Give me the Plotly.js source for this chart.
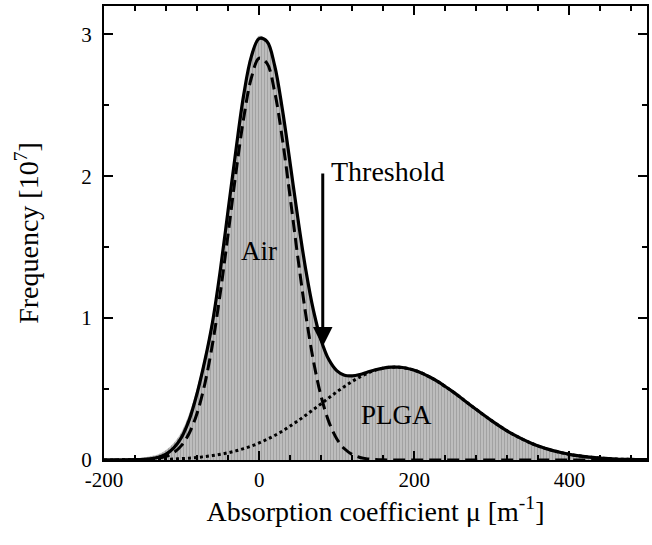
<!DOCTYPE html>
<html>
<head>
<meta charset="utf-8">
<script src="https://cdn.plot.ly/plotly-3.0.1.min.js"></script>
<style>html,body{margin:0;padding:0;background:#fff;}#chart{width:652px;height:545px;}</style>
</head>
<body>
<div id="chart"></div>
<script>
// Absorption coefficient grid (m^-1)
const mu = [-200,-190,-180,-170,-160,-150,-140,-130,-120,-110,-100,-90,-80,-70,-60,-50,-40,-30,-20,-10,0,10,20,30,40,50,60,70,80,90,100,110,120,130,140,150,160,170,180,190,200,210,220,230,240,250,260,270,280,290,300,310,320,330,340,350,360,370,380,390,400,410,420,430,440,450,460,470,480,490,500];

// Histogram of measured frequencies (10^7)
const histCounts = [0.002,0.003,0.004,0.006,0.010,0.016,0.026,0.04,0.07,0.12,0.20,0.33,0.51,0.74,1.02,1.38,1.80,2.22,2.60,2.87,2.99,2.96,2.79,2.47,2.08,1.69,1.33,1.05,0.84,0.70,0.63,0.60,0.595,0.605,0.62,0.64,0.652,0.658,0.658,0.652,0.64,0.62,0.59,0.56,0.525,0.487,0.446,0.404,0.362,0.321,0.282,0.245,0.21,0.18,0.152,0.128,0.106,0.088,0.073,0.06,0.05,0.042,0.035,0.029,0.023,0.018,0.014,0.011,0.008,0.006,0.004];

// Air component fit (dashed)
const airFit = [0,0,0,0,0.001,0.002,0.005,0.011,0.025,0.052,0.103,0.190,0.330,0.537,0.822,1.180,1.593,2.021,2.407,2.694,2.832,2.797,2.595,2.261,1.851,1.424,1.029,0.698,0.446,0.267,0.150,0.079,0.039,0.018,0.008,0.003,0.001,0,0,0,0,0,0,0,0,0,0,0,0,0,0,0,0,0,0,0,0,0,0,0,0,0,0,0,0,0,0,0,0,0,0];

// PLGA component fit (dotted)
const plgaFit = [0.000,0.000,0.001,0.001,0.001,0.002,0.003,0.004,0.005,0.007,0.010,0.013,0.018,0.024,0.031,0.040,0.051,0.064,0.080,0.098,0.120,0.145,0.173,0.204,0.239,0.276,0.315,0.356,0.397,0.439,0.480,0.518,0.554,0.585,0.612,0.633,0.647,0.654,0.654,0.647,0.633,0.612,0.585,0.554,0.518,0.480,0.439,0.397,0.356,0.315,0.276,0.239,0.204,0.173,0.145,0.120,0.098,0.080,0.064,0.051,0.040,0.031,0.024,0.018,0.013,0.010,0.007,0.005,0.004,0.003,0.002];

// Total fit (solid)
const totalFit = [0.000,0.000,0.001,0.001,0.002,0.004,0.009,0.020,0.042,0.085,0.160,0.285,0.470,0.700,0.975,1.340,1.760,2.180,2.570,2.845,2.970,2.950,2.780,2.470,2.090,1.700,1.344,1.054,0.843,0.706,0.630,0.597,0.593,0.603,0.620,0.636,0.648,0.654,0.654,0.647,0.633,0.612,0.585,0.554,0.518,0.480,0.439,0.397,0.356,0.315,0.276,0.239,0.204,0.173,0.145,0.120,0.098,0.080,0.064,0.051,0.040,0.031,0.024,0.018,0.013,0.010,0.007,0.005,0.004,0.003,0.002];

const xTickVals = [-200, 0, 200, 400];
const xTickText = ['-200', '0', '200', '400'];
const yTickVals = [0, 1, 2, 3];
const yTickText = ['0', '1', '2', '3'];

const labelAir = {x: 0, y: 1.355, text: 'Air'};
const labelPlga = {x: 177, y: 0.2, text: 'PLGA'};
const threshold = {x: 82, yTip: 0.80, yTail: 2.03, text: 'Threshold'};

const FONT = '"Liberation Serif", "Times New Roman", serif';

const traces = [
  {
    x: mu, y: histCounts, type: 'scatter', mode: 'lines',
    line: {color: 'rgba(0,0,0,0)', width: 0, shape: 'spline'},
    fill: 'tozeroy', fillcolor: '#b4b4b4',
    fillpattern: {shape: '|', bgcolor: '#bdbdbd', fgcolor: '#a2a2a2', size: 3, solidity: 0.35},
    hoverinfo: 'skip'
  },
  {
    x: mu, y: plgaFit, type: 'scatter', mode: 'lines',
    line: {color: '#000', width: 3, dash: 'dot', shape: 'spline'}
  },
  {
    x: mu, y: airFit, type: 'scatter', mode: 'lines',
    line: {color: '#000', width: 3, dash: '12px,6px', shape: 'spline'}
  },
  {
    x: mu, y: totalFit, type: 'scatter', mode: 'lines',
    line: {color: '#000', width: 3.2, shape: 'spline'}
  }
];

const axisCommon = {
  showline: true, linecolor: '#000', linewidth: 2, mirror: 'ticks',
  ticks: 'inside', ticklen: 9, tickwidth: 2, tickcolor: '#000',
  showgrid: false, zeroline: false,
  tickfont: {family: FONT, size: 21, color: '#000'},
  tickmode: 'array'
};

const layout = {
  width: 652, height: 545,
  margin: {l: 104, r: 5, t: 6, b: 85},
  paper_bgcolor: '#fff', plot_bgcolor: '#fff',
  showlegend: false,
  font: {family: FONT, color: '#000'},
  xaxis: Object.assign({}, axisCommon, {
    range: [-200, 500],
    tickvals: xTickVals, ticktext: xTickText,
    minor: {dtick: 40, tick0: -200, ticks: 'inside', ticklen: 5, tickwidth: 2, tickcolor: '#000', showgrid: false},
    ticklabelstandoff: 0,
    title: {text: 'Absorption coefficient μ [m<sup>-1</sup>]', font: {family: FONT, size: 28, color: '#000'}, standoff: 8}
  }),
  yaxis: Object.assign({}, axisCommon, {
    range: [0, 3.2],
    tickvals: yTickVals, ticktext: yTickText,
    minor: {dtick: 0.5, tick0: 0, ticks: 'inside', ticklen: 5, tickwidth: 2, tickcolor: '#000', showgrid: false},
    ticklabelstandoff: 6,
    title: {text: 'Frequency [10<sup>7</sup>]', font: {family: FONT, size: 28, color: '#000'}, standoff: 34}
  }),
  annotations: [
    {x: labelAir.x, y: labelAir.y, text: labelAir.text, showarrow: false, xanchor: 'center', yanchor: 'bottom',
     font: {family: FONT, size: 27, color: '#000'}},
    {x: labelPlga.x, y: labelPlga.y, text: labelPlga.text, showarrow: false, xanchor: 'center', yanchor: 'bottom',
     font: {family: FONT, size: 27, color: '#000'}},
    {x: threshold.x, y: threshold.yTip, ax: threshold.x, ay: threshold.yTail, axref: 'x', ayref: 'y',
     text: '', showarrow: true, arrowhead: 2, arrowsize: 1.3, arrowwidth: 3, arrowcolor: '#000', standoff: 0},
    {x: threshold.x, y: threshold.yTail, text: threshold.text, showarrow: false, xanchor: 'left', yanchor: 'middle',
     xshift: 6, yshift: 0, font: {family: FONT, size: 28, color: '#000'}}
  ]
};

Plotly.newPlot('chart', traces, layout, {displayModeBar: false, staticPlot: true});
</script>
</body>
</html>
